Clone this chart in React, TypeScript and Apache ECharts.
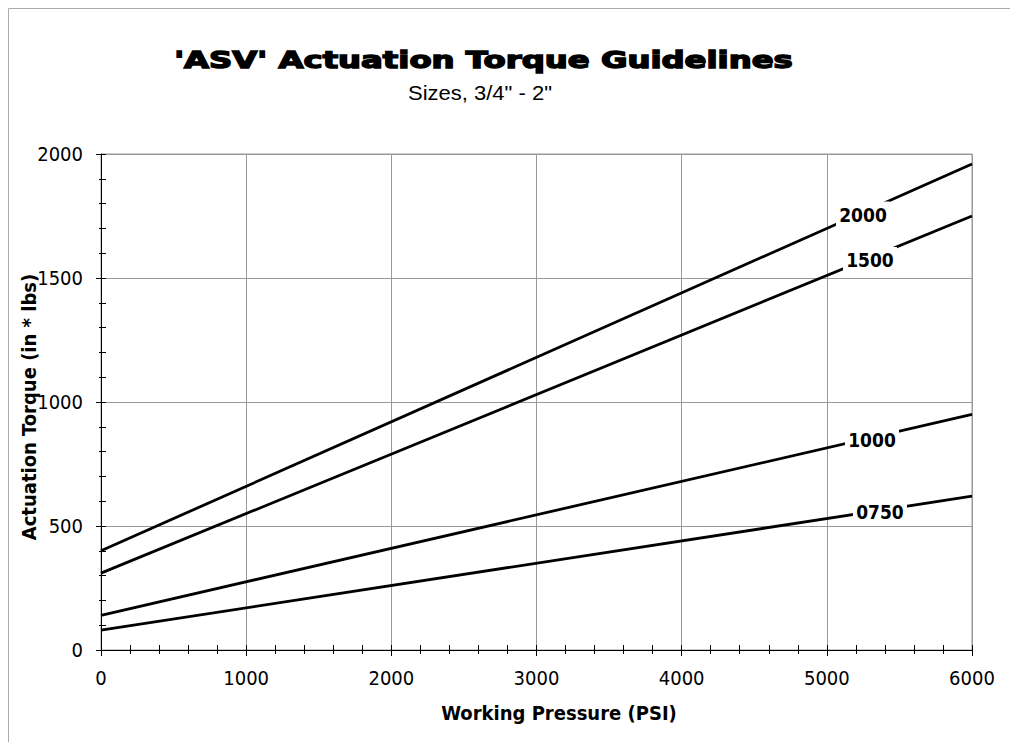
import React, { useEffect, useRef } from "react";
import * as echarts from "echarts";

const pressure = [0, 6000];
const torque2000 = [400, 1960];
const torque1500 = [310, 1750];
const torque1000 = [140, 950];
const torque0750 = [80, 620];
const sizeNames = ["2000", "1500", "1000", "0750"];
const labelPressure = [5249, 5297, 5311, 5366];
const labelTorque = [1756, 1573, 845, 556];

const xMin = 0, xMax = 6000, xStep = 1000;
const yMin = 0, yMax = 2000, yStep = 500;

const TAHOMA = "'DejaVu Sans Condensed', 'DejaVu Sans', sans-serif";

export default function App() {
  const ref = useRef<HTMLDivElement>(null);
  useEffect(() => {
    document.body.style.margin = "0";
    const chart = echarts.init(ref.current!, null, { renderer: "svg" });
    const allSeries = [torque2000, torque1500, torque1000, torque0750];
    const lineSeries = allSeries.map((vals, i) => ({
      type: "line",
      name: sizeNames[i],
      data: pressure.map((p, j) => [p, vals[j]]),
      showSymbol: false,
      symbol: "none",
      lineStyle: { color: "#000", width: 2.8 },
      z: 3,
    }));
    const labelSeries = {
      type: "scatter",
      data: sizeNames.map((n, i) => ({ value: [labelPressure[i], labelTorque[i]], name: n })),
      symbol: "rect",
      symbolSize: [54, 26],
      itemStyle: { color: "#fff", opacity: 1 },
      label: {
        show: true,
        position: "inside",
        formatter: (p: any) => p.name,
        color: "#000",
        textBorderWidth: 0,
        fontFamily: TAHOMA,
        fontWeight: "bold",
        fontSize: 19,
      },
      emphasis: { disabled: true },
      z: 5,
    };
    const plain = (v: number) => String(v);
    const option: any = {
      animation: false,
      backgroundColor: "#fff",
      grid: {
        left: 101,
        right: 38,
        top: 154,
        bottom: 92,
        show: true,
        borderColor: "#999",
        borderWidth: 1,
      },
      xAxis: [
        {
          type: "value",
          min: xMin,
          max: xMax,
          interval: xStep,
          axisLine: { show: true, onZero: false, lineStyle: { color: "#000", width: 1 } },
          axisTick: { show: true, length: 6, lineStyle: { color: "#000" } },
          minorTick: { show: true, splitNumber: 5, length: 4, lineStyle: { color: "#000" } },
          axisLabel: { color: "#000", fontFamily: TAHOMA, fontSize: 20, margin: 18, formatter: plain },
          splitLine: { show: true, lineStyle: { color: "#999", width: 1 } },
        },
        {
          type: "value",
          min: xMin,
          max: xMax,
          interval: xStep,
          position: "bottom",
          axisLine: { show: false, onZero: false },
          axisTick: { show: true, inside: true, length: 5, lineStyle: { color: "#000" } },
          minorTick: { show: true, splitNumber: 5, length: 5, lineStyle: { color: "#000" } },
          axisLabel: { show: false },
          splitLine: { show: false },
        },
      ],
      yAxis: [
        {
          type: "value",
          min: yMin,
          max: yMax,
          interval: yStep,
          axisLine: { show: true, onZero: false, lineStyle: { color: "#000", width: 1 } },
          axisTick: { show: true, length: 5, lineStyle: { color: "#000" } },
          minorTick: { show: true, splitNumber: 5, length: 2, lineStyle: { color: "#000" } },
          axisLabel: { color: "#000", fontFamily: TAHOMA, fontSize: 20, margin: 18, formatter: plain },
          splitLine: { show: true, lineStyle: { color: "#999", width: 1 } },
        },
        {
          type: "value",
          min: yMin,
          max: yMax,
          interval: yStep,
          position: "left",
          axisLine: { show: false, onZero: false },
          axisTick: { show: true, inside: true, length: 5, lineStyle: { color: "#000" } },
          minorTick: { show: true, splitNumber: 5, length: 5, lineStyle: { color: "#000" } },
          axisLabel: { show: false },
          splitLine: { show: false },
        },
      ],
      series: [...lineSeries, labelSeries],
      graphic: [
        {
          type: "rect",
          shape: { x: 8.5, y: 8.5, width: 1200, height: 1200 },
          style: { fill: "none", stroke: "#aaa", lineWidth: 1 },
          silent: true,
          z: -10,
        },
        {
          type: "group",
          x: 483.5,
          y: 60,
          scaleX: 1.405,
          children: [
            {
              type: "text",
              x: 0,
              y: 0,
              style: {
                text: "'ASV' Actuation Torque Guidelines",
                fontFamily: "'DejaVu Sans', sans-serif",
                fontWeight: "bold",
                fontSize: 23,
                fill: "#000",
                stroke: "#000",
                lineWidth: 1.4,
                align: "center",
                verticalAlign: "middle",
              },
            },
          ],
        },
        {
          type: "group",
          x: 480,
          y: 93,
          scaleX: 1.1,
          children: [
            {
              type: "text",
              x: 0,
              y: 0,
              style: {
                text: 'Sizes, 3/4" - 2"',
                fontFamily: "'Liberation Sans', Arial, sans-serif",
                fontSize: 20,
                fill: "#000",
                align: "center",
                verticalAlign: "middle",
              },
            },
          ],
        },
        {
          type: "text",
          x: 559,
          y: 713,
          style: {
            text: "Working Pressure (PSI)",
            fontFamily: TAHOMA,
            fontWeight: "bold",
            fontSize: 20,
            fill: "#000",
            align: "center",
            verticalAlign: "middle",
          },
        },
        {
          type: "text",
          x: 29,
          y: 407,
          rotation: Math.PI / 2,
          style: {
            text: "Actuation Torque (in * lbs)",
            fontFamily: TAHOMA,
            fontWeight: "bold",
            fontSize: 20,
            fill: "#000",
            align: "center",
            verticalAlign: "middle",
          },
        },
      ],
    };
    chart.setOption(option);
    return () => chart.dispose();
  }, []);
  return <div ref={ref} style={{ width: 1010, height: 742, overflow: "hidden" }} />;
}
